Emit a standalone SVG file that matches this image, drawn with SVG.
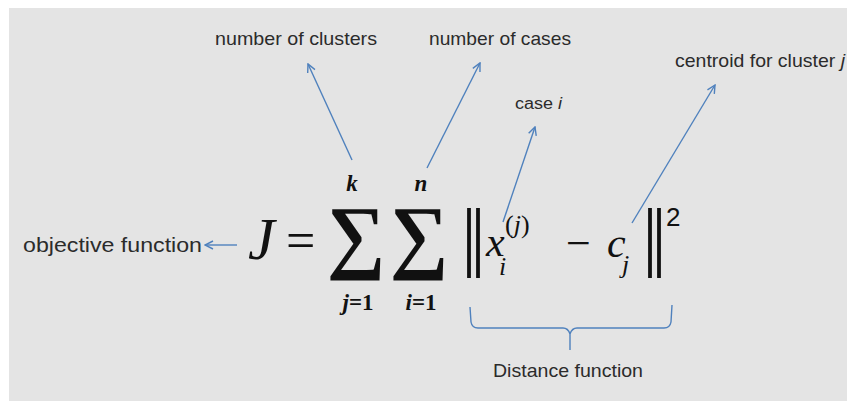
<svg xmlns="http://www.w3.org/2000/svg" width="847" height="401" viewBox="0 0 847 401">
  <defs>
    <style>
      .lbl { font-family: "Liberation Sans", Arial, sans-serif; fill: #2b2b2b; }
      .math { font-family: "Liberation Serif", "Times New Roman", serif; fill: #111; }
      .it { font-style: italic; }
      .conn { stroke: #4f81bd; stroke-width: 1.4; fill: none; }
      .bar { stroke: #111; stroke-width: 3.8; }
    </style>
    <marker id="open" viewBox="0 0 10 10" refX="9" refY="5" markerWidth="10" markerHeight="10" markerUnits="userSpaceOnUse" orient="auto">
      <path d="M1,1 L9,5 L1,9" fill="none" stroke="#4f81bd" stroke-width="1.4"/>
    </marker>
  </defs>
  <rect x="0" y="0" width="847" height="401" fill="#ffffff"/>
  <rect x="9" y="8" width="838" height="393" fill="#e4e4e4"/>

  <g id="label-clusters"><text class="lbl" x="215" y="45" font-size="19" textLength="162" lengthAdjust="spacingAndGlyphs">number of clusters</text></g>
  <g id="label-cases"><text class="lbl" x="429" y="45" font-size="19" textLength="142" lengthAdjust="spacingAndGlyphs">number of cases</text></g>
  <g id="label-case-i"><text class="lbl" x="515" y="109" font-size="16" textLength="47" lengthAdjust="spacingAndGlyphs">case <tspan font-style="italic">i</tspan></text></g>
  <g id="label-centroid"><text class="lbl" x="675" y="67" font-size="19" textLength="170" lengthAdjust="spacingAndGlyphs">centroid for cluster <tspan font-style="italic">j</tspan></text></g>
  <g id="label-objective"><text class="lbl" x="23" y="252" font-size="20" textLength="179" lengthAdjust="spacingAndGlyphs">objective function</text></g>
  <g id="label-distance"><text class="lbl" x="493" y="377" font-size="19" textLength="150" lengthAdjust="spacingAndGlyphs">Distance function</text></g>

  <g id="eq-J"><text class="math it" x="248" y="259" font-size="60">J</text></g>
  <g id="eq-equals"><text class="math" x="286" y="258" font-size="52">=</text></g>
  <g id="eq-sum-j">
    <text class="math" x="356" y="263" font-size="82" font-weight="bold" text-anchor="middle">∑</text>
    <text class="math it" x="352" y="191" font-size="23" font-weight="bold" text-anchor="middle">k</text>
    <text class="math" x="358" y="310" font-size="23" font-weight="bold" text-anchor="middle"><tspan font-style="italic">j</tspan>=1</text>
  </g>
  <g id="eq-sum-i">
    <text class="math" x="419" y="263" font-size="82" font-weight="bold" text-anchor="middle">∑</text>
    <text class="math it" x="421" y="191" font-size="23" font-weight="bold" text-anchor="middle">n</text>
    <text class="math" x="421" y="310" font-size="23" font-weight="bold" text-anchor="middle"><tspan font-style="italic">i</tspan>=1</text>
  </g>
  <g id="eq-norm">
    <line class="bar" x1="469" y1="208" x2="469" y2="278"/>
    <line class="bar" x1="478" y1="208" x2="478" y2="278"/>
    <text class="math it" x="486" y="256" font-size="42">x</text>
    <text class="math" x="505" y="233" font-size="26">(<tspan font-style="italic">j</tspan>)</text>
    <text class="math it" x="499" y="275" font-size="26">i</text>
    <text class="math" x="566" y="258" font-size="44">−</text>
    <text class="math it" x="607" y="257" font-size="42">c</text>
    <text class="math it" x="622" y="273" font-size="26">j</text>
    <line class="bar" x1="650" y1="208" x2="650" y2="278"/>
    <line class="bar" x1="659" y1="208" x2="659" y2="278"/>
    <text x="666" y="226" font-size="26" font-family="Liberation Sans, Arial, sans-serif" fill="#111">2</text>
  </g>

  <g id="connectors">
    <line class="conn" x1="352" y1="160" x2="308" y2="64" marker-end="url(#open)"/>
    <line class="conn" x1="427" y1="168" x2="480" y2="63" marker-end="url(#open)"/>
    <line class="conn" x1="503" y1="222" x2="535" y2="127" marker-end="url(#open)"/>
    <line class="conn" x1="632" y1="223" x2="715" y2="85" marker-end="url(#open)"/>
    <line class="conn" x1="237" y1="245" x2="205" y2="245" marker-end="url(#open)"/>
    <path id="brace" class="conn" d="M470,307 L471,322 Q472,328 478,328 L563,328 Q568,328 570,334 Q572,328 577,328 L664,328 Q670,328 671,322 L672,305 M570,334 L570,350"/>
  </g>
</svg>
